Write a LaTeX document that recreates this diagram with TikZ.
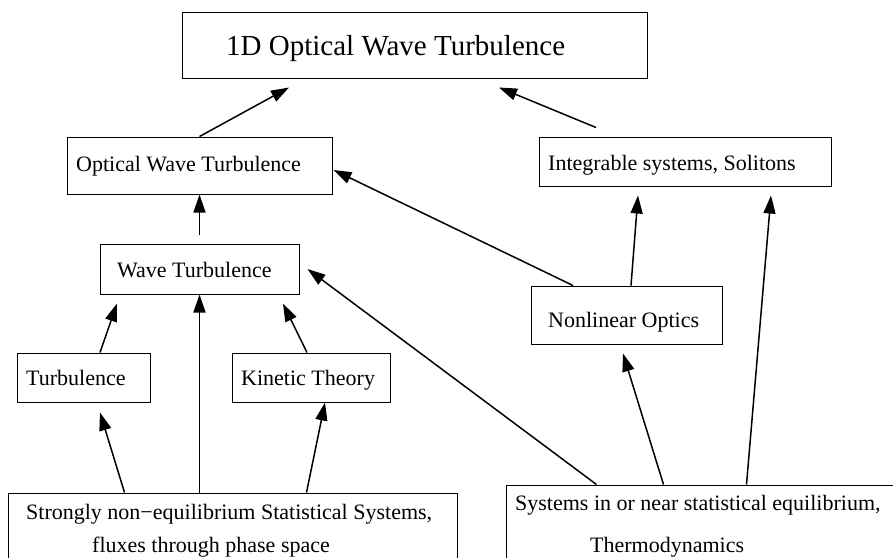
\documentclass[tikz,border=0pt]{standalone}
\usepackage{fontspec}
\setmainfont{Liberation Serif}
\usetikzlibrary{arrows.meta,calc}

\tikzset{
  box/.style={draw=black, line width=1pt, rectangle, inner sep=0pt},
  lbl/.style={inner sep=0pt, anchor=base west, font=\fontsize{22}{26}\selectfont},
  biglbl/.style={inner sep=0pt, anchor=base west, font=\fontsize{29}{34}\selectfont},
  arr/.style={line width=1.5pt, -{Triangle[length=18pt,width=12pt]}},
}

\begin{document}
\begin{tikzpicture}[x=1pt,y=-1pt]
  \useasboundingbox (0,0) rectangle (893,557);
  \clip (0,0) rectangle (893,557);

  % boxes
  \node[box, minimum width=465pt, minimum height=66pt] (title) at (414.5,45) {};
  \node[box, minimum width=265pt, minimum height=57pt] (owt)   at (199.5,165.5) {};
  \node[box, minimum width=292pt, minimum height=49pt] (integ) at (685,161.5) {};
  \node[box, minimum width=199pt, minimum height=50pt] (wt)    at (199.5,269) {};
  \node[box, minimum width=191pt, minimum height=58pt] (nlo)   at (626.5,315) {};
  \node[box, minimum width=133pt, minimum height=49pt] (turb)  at (83.5,377.5) {};
  \node[box, minimum width=158pt, minimum height=49pt] (kin)   at (311,377.5) {};
  \node[box, minimum width=449pt, minimum height=107pt] (strong) at (232.5,546.5) {};
  \node[box, minimum width=444pt, minimum height=115pt] (sys)  at (728,542.5) {};

  % texts
  \node[biglbl] (t-title) at (226,55) {1D Optical Wave Turbulence};
  \node[lbl] (t-owt)   at (76,171)  {Optical Wave Turbulence};
  \node[lbl] (t-integ) at (548,170) {Integrable systems, Solitons};
  \node[lbl] (t-wt)    at (117,277) {Wave Turbulence};
  \node[lbl] (t-nlo)   at (548,327) {Nonlinear Optics};
  \node[lbl] (t-turb)  at (26,385.5) {Turbulence};
  \node[lbl] (t-kin)   at (241,385.5) {Kinetic Theory};
  \node[lbl] (t-strong1) at (26,519) {Strongly non−equilibrium Statistical Systems,};
  \node[lbl] (t-strong2) at (92,552) {fluxes through phase space};
  \node[lbl] (t-sys1)  at (515,510) {Systems in or near statistical equilibrium,};
  \node[lbl] (t-sys2)  at (590,552) {Thermodynamics};

  % connectors
  \draw[arr] (owt.north) -- ($(title.south)+(-125.5,9)$);
  \draw[arr] ($(integ.north)+(-89,-9)$) -- ($(title.south)+(84.5,9)$);
  \draw[arr] ($(wt.north)+(0,-9)$) -- (owt.south);
  \draw[arr] ($(nlo.north)+(-53.5,0)$) -- ($(owt.east)+(1,4.5)$);
  \draw[arr] ($(nlo.north)+(4.5,0)$) -- ($(integ.south)+(-47,9)$);
  \draw[arr] ($(sys.north west)+(241,0)$) -- ($(integ.south)+(86,9)$);
  \draw[arr] ($(sys.north west)+(158,0)$) -- ($(nlo.south)+(-3.5,9)$);
  \draw[arr] ($(sys.north west)+(91,0)$) -- ($(wt.east)+(8,0)$);
  \draw[arr] ($(turb.north)+(16.5,0)$) -- ($(wt.south)+(-82.5,9)$);
  \draw[arr] ($(kin.north)+(-4,0)$) -- ($(wt.south)+(83.5,9)$);
  \draw[arr] ($(strong.north west)+(192,0)$) -- (wt.south);
  \draw[arr] ($(strong.north west)+(117,0)$) -- ($(turb.south)+(16.5,10)$);
  \draw[arr] ($(strong.north west)+(299,0)$) -- ($(kin.south)+(14,0)$);
\end{tikzpicture}
\end{document}
